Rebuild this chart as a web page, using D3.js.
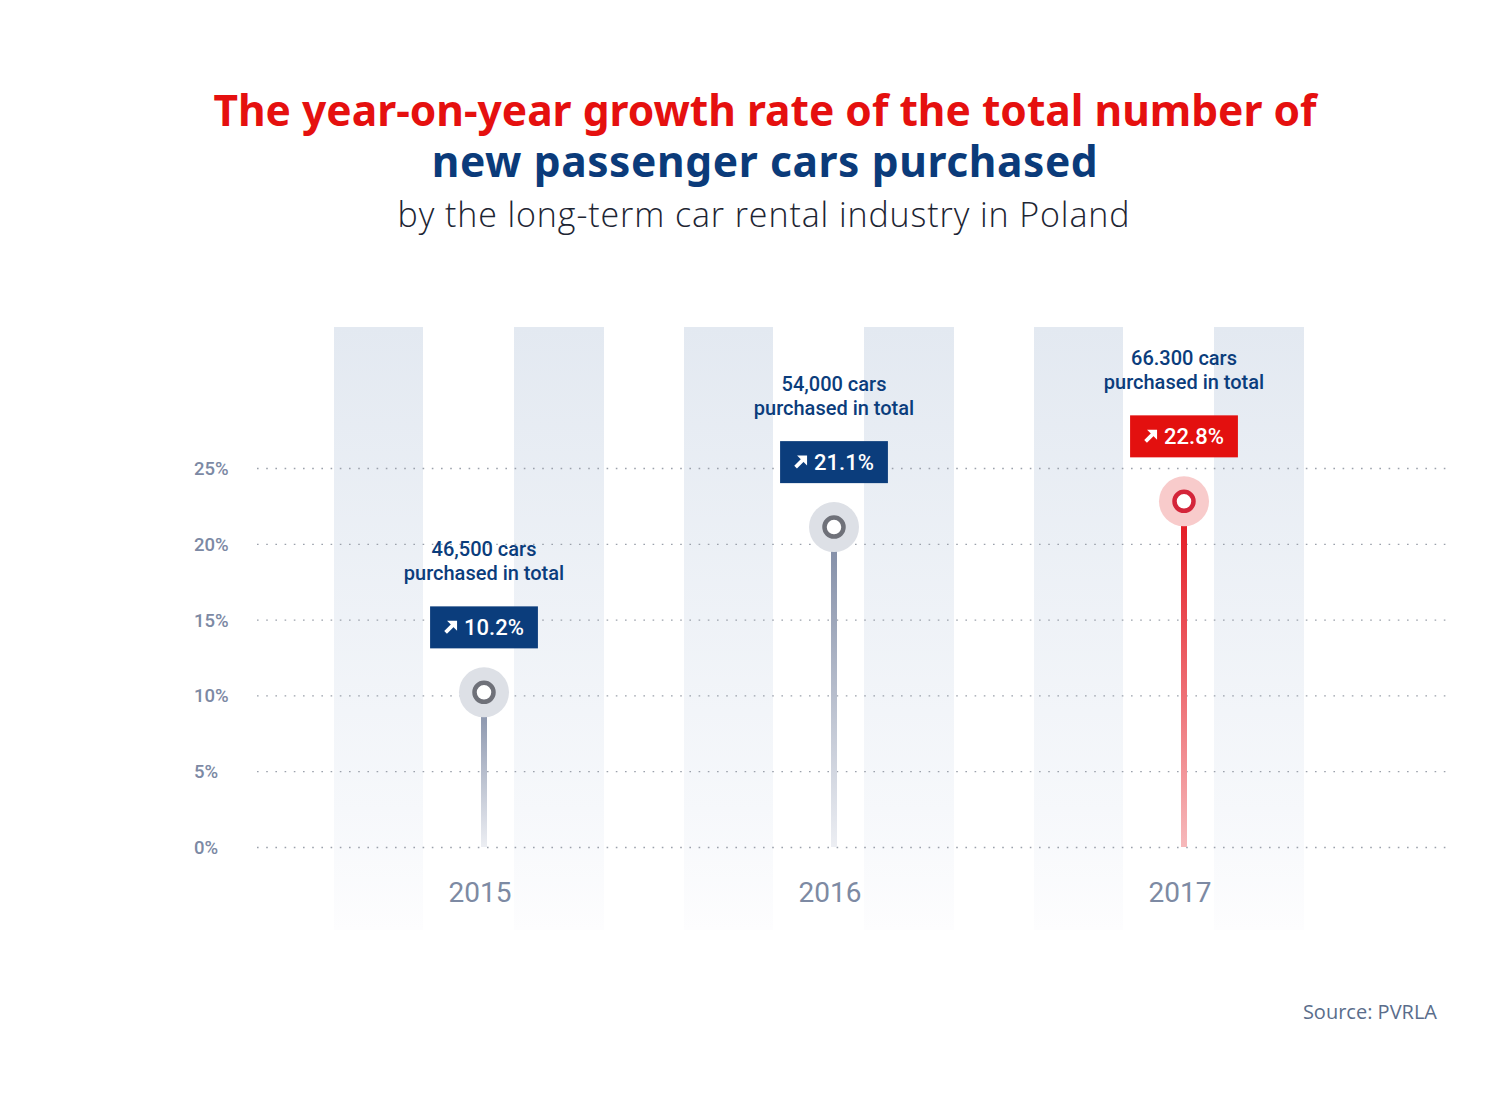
<!DOCTYPE html>
<html>
<head>
<meta charset="utf-8">
<script src="https://cdn.jsdelivr.net/npm/d3@7/dist/d3.min.js"></script>
<style>
  html, body { margin: 0; padding: 0; background: #ffffff; }
  svg { display: block; }
</style>
</head>
<body>
<svg id="chart" width="1500" height="1098"></svg>
<script>
// ---- data ----
const years = ["2015", "2016", "2017"];
const growth = [10.2, 21.1, 22.8];
const totalLabels = ["46,500 cars", "54,000 cars", "66.300 cars"];
const totalSub = ["purchased in total", "purchased in total", "purchased in total"];
const highlighted = [false, false, true];
const yTicks = [0, 5, 10, 15, 20, 25];
const titleLine1 = "The year-on-year growth rate of the total number of";
const titleLine2 = "new passenger cars purchased";
const subtitle = "by the long-term car rental industry in Poland";
const source = "Source: PVRLA";

const data = years.map((y, i) => ({ year: y, value: growth[i], total: totalLabels[i], sub: totalSub[i], hi: highlighted[i] }));

const svg = d3.select("#chart");
const defs = svg.append("defs");

const x = d3.scalePoint().domain(years).range([484, 1184]);
const y = d3.scaleLinear().domain([0, 25]).range([847, 468]);

// gradients
const sg = defs.append("linearGradient").attr("id", "stripeGrad")
  .attr("gradientUnits", "userSpaceOnUse").attr("x1", 0).attr("x2", 0).attr("y1", 327).attr("y2", 930);
sg.append("stop").attr("offset", "0%").attr("stop-color", "#e3e9f1");
sg.append("stop").attr("offset", "80%").attr("stop-color", "#f6f8fb");
sg.append("stop").attr("offset", "100%").attr("stop-color", "#fdfdfe");

const gGrey = defs.append("linearGradient").attr("id", "stemGrey")
  .attr("x1", 0).attr("x2", 0).attr("y1", 0).attr("y2", 1);
gGrey.append("stop").attr("offset", "0%").attr("stop-color", "#7d89a3");
gGrey.append("stop").attr("offset", "100%").attr("stop-color", "#eceef3");

const gRed = defs.append("linearGradient").attr("id", "stemRed")
  .attr("x1", 0).attr("x2", 0).attr("y1", 0).attr("y2", 1);
gRed.append("stop").attr("offset", "0%").attr("stop-color", "#e3111b");
gRed.append("stop").attr("offset", "100%").attr("stop-color", "#f6b9bb");

// ---- titles ----
const title = svg.append("text").attr("text-anchor", "middle")
  .style("font-family", "'Noto Sans', sans-serif").style("font-weight", 700).style("font-size", "42.5px");
title.append("tspan").attr("x", 765).attr("y", 126).attr("fill", "#e5100f").text(titleLine1);
title.append("tspan").attr("x", 765).attr("y", 177).attr("fill", "#0b3b7a")
  .style("letter-spacing", "0.6px").text(titleLine2);
svg.append("text").attr("x", 764).attr("y", 227).attr("text-anchor", "middle")
  .style("font-family", "'Open Sans', sans-serif").style("font-weight", 300).style("font-size", "34px")
  .style("letter-spacing", "0.9px")
  .attr("fill", "#1d2533").text(subtitle);

// ---- background stripes ----
const stripes = svg.append("g");
data.forEach(d => {
  const cx = x(d.year);
  [[-150, -61], [30, 120]].forEach(([a, b]) => {
    stripes.append("rect").attr("x", cx + a).attr("y", 327).attr("width", b - a).attr("height", 603)
      .attr("fill", "url(#stripeGrad)");
  });
});

// ---- grid / y axis ----
const axis = d3.axisLeft(y).tickValues(yTicks).tickSize(-(1448 - 257)).tickFormat(d => d + "%");
const ga = svg.append("g").attr("transform", "translate(257,0)").call(axis);
ga.select(".domain").remove();
ga.selectAll(".tick line").attr("stroke", "#9ba1ab").attr("stroke-width", 1.3).attr("stroke-dasharray", "1.6,7.6");
ga.selectAll(".tick text").attr("x", -63).attr("text-anchor", "start").attr("dy", "0.35em")
  .style("font-family", "Roboto, sans-serif").style("font-weight", 500).style("font-size", "18.5px")
  .attr("fill", "#7c89a4");

// ---- stems and markers ----
const marks = svg.append("g");
data.forEach(d => {
  const cx = x(d.year), cy = y(d.value);
  marks.append("rect").attr("x", cx - 3).attr("y", cy).attr("width", 6).attr("height", y(0) - cy)
    .attr("fill", d.hi ? "url(#stemRed)" : "url(#stemGrey)");
  marks.append("circle").attr("cx", cx).attr("cy", cy).attr("r", 25)
    .attr("fill", d.hi ? "#f8cbcb" : "#dde0e6");
  marks.append("circle").attr("cx", cx).attr("cy", cy).attr("r", 9.5)
    .attr("fill", "#ffffff").attr("stroke", d.hi ? "#d4253a" : "#6f7179").attr("stroke-width", 4.5);

  // value box
  const boxBottom = cy - 44, boxH = 42;
  const g = svg.append("g");
  const t = g.append("text").attr("y", boxBottom - boxH / 2).attr("dy", "0.36em")
    .style("font-family", "Roboto, sans-serif").style("font-weight", 500).style("font-size", "22px")
    .attr("fill", "#ffffff").text(d.value.toFixed(1) + "%");
  const tw = t.node().getComputedTextLength();
  const boxW = 14 + 13 + 7 + tw + 14;
  const bx = cx - boxW / 2;
  g.insert("rect", "text").attr("x", bx).attr("y", boxBottom - boxH).attr("width", boxW).attr("height", boxH)
    .attr("fill", d.hi ? "#e3100f" : "#0b3d7c");
  t.attr("x", bx + 14 + 13 + 7);
  const ix = bx + 14, iy = boxBottom - boxH / 2 - 6.5;
  g.append("path").attr("transform", `translate(${ix},${iy})`)
    .attr("d", "M3,0 L13,0 L13,10 Z").attr("fill", "#ffffff");
  g.append("line").attr("transform", `translate(${ix},${iy})`)
    .attr("x1", 1.5).attr("y1", 11.5).attr("x2", 10).attr("y2", 3)
    .attr("stroke", "#ffffff").attr("stroke-width", 3.8);

  // total label
  const lt = svg.append("text").attr("x", cx).attr("text-anchor", "middle")
    .style("font-family", "Roboto, sans-serif").style("font-weight", 500).style("font-size", "20px")
    .attr("fill", "#0b3d7c");
  lt.append("tspan").attr("x", cx).attr("y", boxBottom - boxH - 50).text(d.total);
  lt.append("tspan").attr("x", cx).attr("y", boxBottom - boxH - 26).text(d.sub);

  // year label
  svg.append("text").attr("x", cx - 4).attr("y", 902).attr("text-anchor", "middle")
    .style("font-family", "Roboto, sans-serif").style("font-weight", 400).style("font-size", "28px")
    .attr("fill", "#7d8aa3").text(d.year);
});

// ---- source ----
svg.append("text").attr("x", 1437).attr("y", 1019).attr("text-anchor", "end")
  .style("font-family", "'Open Sans', sans-serif").style("font-weight", 400).style("font-size", "20px")
  .attr("fill", "#5a6d8b").text(source);
</script>
</body>
</html>
